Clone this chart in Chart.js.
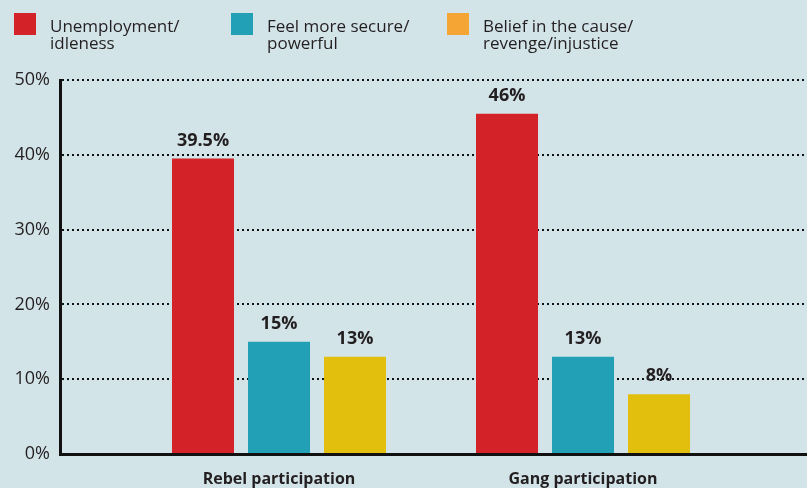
<!DOCTYPE html>
<html><head><meta charset="utf-8">
<script src="https://cdn.jsdelivr.net/npm/chart.js@4"></script>
<style>
html,body{margin:0;padding:0;background:#d3e4e9;overflow:hidden;}
#wrap{width:807px;height:488px;position:relative;}
canvas{display:block;}
</style>
</head><body><div id="wrap"><canvas id="c" width="807" height="488"></canvas></div>
<script>
// ---- data ----
const categories = ['Rebel participation', 'Gang participation'];
const categoryPositions = [1, 2];
const seriesNames = [
  ['Unemployment/', 'idleness'],
  ['Feel more secure/', 'powerful'],
  ['Belief in the cause/', 'revenge/injustice']
];
const unemployment = [39.5, 45.5];
const secure = [15, 13];
const belief = [13, 8];
const unemploymentLabels = ['39.5%', '46%'];
const secureLabels = ['15%', '13%'];
const beliefLabels = ['13%', '8%'];
const yTicks = [0, 10, 20, 30, 40, 50];

// ---- styles ----
const barColors = ['#d42229', '#22a0b6', '#e2bf0c'];
const legendColors = ['#d42229', '#22a0b6', '#f5a534'];
const textColor = '#231f20';
const FONT = '"Open Sans", "DejaVu Sans", sans-serif';

const seriesValues = [unemployment, secure, belief];
const seriesLabels = [unemploymentLabels, secureLabels, beliefLabels];

const datasets = seriesValues.map((vals, s) => ({
  label: seriesNames[s].join(' '),
  data: vals.map((v, i) => ({ x: categoryPositions[i], y: v })),
  valueLabels: seriesLabels[s],
  backgroundColor: barColors[s],
  borderWidth: 0,
  barPercentage: 0.816,
  categoryPercentage: 0.75
}));

const valueLabelPlugin = {
  id: 'valueLabels',
  afterDatasetsDraw(chart) {
    const ctx = chart.ctx;
    ctx.save();
    ctx.font = 'bold 18px ' + FONT;
    ctx.fillStyle = textColor;
    ctx.textAlign = 'center';
    ctx.textBaseline = 'alphabetic';
    chart.data.datasets.forEach((ds, di) => {
      const meta = chart.getDatasetMeta(di);
      meta.data.forEach((bar, i) => {
        ctx.fillText(ds.valueLabels[i], bar.x, bar.y - 13);
      });
    });
    ctx.restore();
  }
};

const legendPlugin = {
  id: 'customLegend',
  afterDraw(chart) {
    const ctx = chart.ctx;
    const starts = [14, 231, 447];
    ctx.save();
    ctx.font = '17px ' + FONT;
    ctx.textAlign = 'left';
    ctx.textBaseline = 'alphabetic';
    seriesNames.forEach((lines, s) => {
      const x = starts[s];
      ctx.fillStyle = legendColors[s];
      ctx.fillRect(x, 13, 22, 22);
      ctx.fillStyle = textColor;
      lines.forEach((ln, li) => {
        ctx.fillText(ln, x + 36, 32 + li * 16.5);
      });
    });
    ctx.restore();
  }
};

new Chart(document.getElementById('c'), {
  type: 'bar',
  data: { datasets },
  options: {
    responsive: false,
    animation: false,
    layout: { padding: { top: 80, left: 0, right: 0, bottom: 0 } },
    plugins: { legend: { display: false }, tooltip: { enabled: false } },
    scales: {
      x: {
        type: 'linear',
        offset: false,
        min: 0.2796,
        max: 2.7368,
        grid: { display: false, drawTicks: false },
        border: { display: true, color: '#111', width: 3 },
        afterBuildTicks: (scale) => { scale.ticks = categoryPositions.map(v => ({ value: v })); },
        afterFit: (scale) => { scale.height = 34; },
        ticks: {
          autoSkip: false,
          maxRotation: 0,
          padding: 16,
          color: textColor,
          font: { family: FONT, size: 16, weight: 'bold' },
          callback: (v) => categories[categoryPositions.indexOf(v)]
        }
      },
      y: {
        min: 0,
        max: 50,
        afterBuildTicks: (scale) => { scale.ticks = yTicks.map(v => ({ value: v })); },
        afterFit: (scale) => { scale.width = 60; },
        grid: { color: '#111', lineWidth: 2, drawTicks: false },
        border: { display: true, color: '#111', width: 3, dash: [2, 3] },
        ticks: {
          padding: 10,
          color: textColor,
          font: { family: FONT, size: 18 },
          callback: (v) => v + '%'
        }
      }
    }
  },
  plugins: [valueLabelPlugin, legendPlugin]
});
</script>
</body></html>
